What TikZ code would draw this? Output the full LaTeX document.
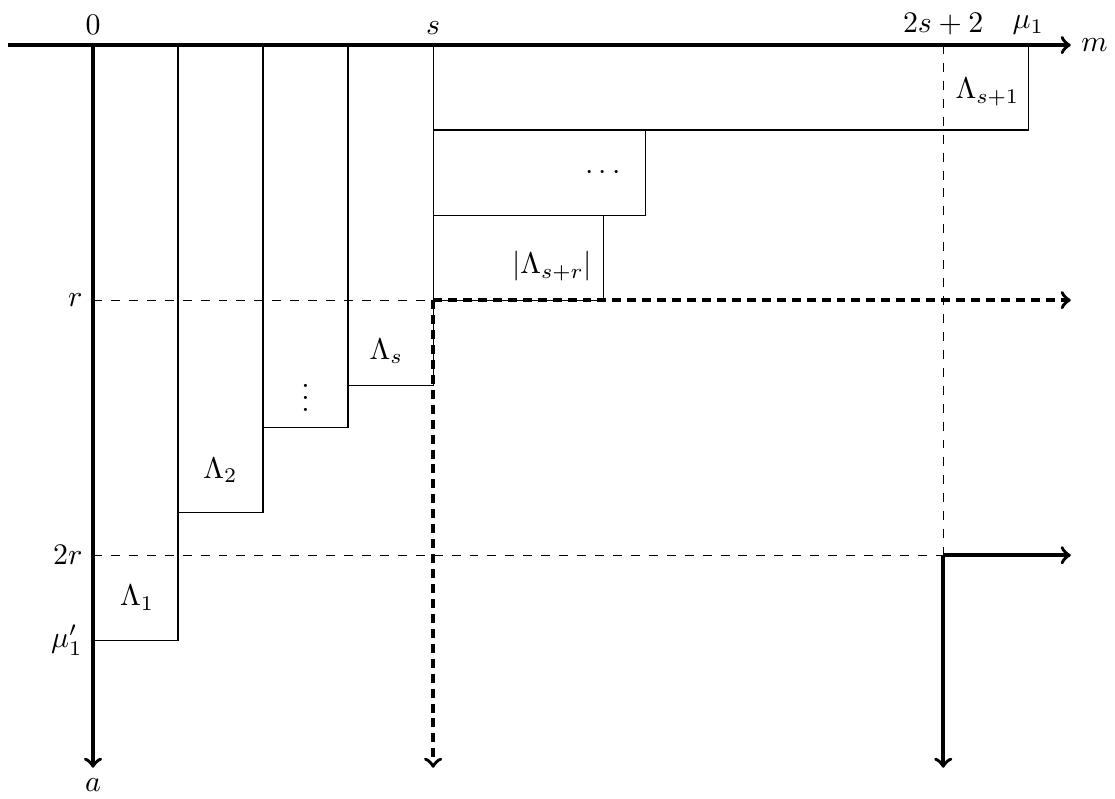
\documentclass[tikz,border=0pt]{standalone}
\usetikzlibrary{arrows}

\begin{document}
\begin{tikzpicture}[
      Axis/.style = {draw, very thick, ->},
      Box/.style = {draw},
      Guide/.style = {draw, dashed},
      Walk/.style = {draw, very thick, densely dashed, ->},
      Jump/.style = {draw, very thick, ->}
    ]
    \useasboundingbox (-1.094,0.53) rectangle (12.02,-8.86);

    \coordinate (O) at (0,0);
    \coordinate (MStart) at (-1,0);
    \coordinate (MEnd) at (11.5,0);
    \coordinate (AEnd) at (0,-8.5);
    \coordinate (S) at (4,0);
    \coordinate (SR) at (4,-3);
    \coordinate (SEnd) at (4,-8.5);
    \coordinate (REnd) at (11.5,-3);
    \coordinate (T) at (10,0);
    \coordinate (TR) at (10,-6);
    \coordinate (TEnd) at (10,-8.5);
    \coordinate (TREnd) at (11.5,-6);

    % columns
    \path [Box] (1,0) -- (1,-7) -- (0,-7);
    \path [Box] (2,0) -- (2,-5.5) -- (1,-5.5);
    \path [Box] (3,0) -- (3,-4.5) -- (2,-4.5);
    \path [Box] (S) -- (4,-4) -- (3,-4);

    % rows
    \path [Box] (4,-1) -- (11,-1) -- (11,0);
    \path [Box] (4,-2) -- (6.5,-2) -- (6.5,-1);
    \path [Box] (SR) -- (6,-3) -- (6,-2);

    % guides
    \path [Guide] (0,-3) -- (SR);
    \path [Guide] (0,-6) -- (TR);
    \path [Guide] (T) -- (TR);

    % axes
    \path [Axis] (MStart) -- (MEnd);
    \path [Axis] (O) -- (AEnd);

    % paths
    \path [Walk] (SR) -- (REnd);
    \path [Walk] (SR) -- (SEnd);
    \path [Jump] (TR) -- (TREnd);
    \path [Jump] (TR) -- (TEnd);

    % axis labels
    \node at (O) [above](Zero){$0$};
    \node at (S) [above](LabS){$s$};
    \node at (T) [above](LabT){$2s+2$};
    \node at (11,0) [above](LabMu){$\mu_1$};
    \node at (MEnd) [right](LabM){$m$};
    \node at (AEnd) [below](LabA){$a$};
    \node at (0,-3) [left](LabR){$r$};
    \node at (0,-6) [left](LabTwoR){$2r$};
    \node at (0,-7) [left](LabMuP){$\mu_1'$};

    % parts
    \node at (0.52,-6.5) (One){$\Lambda_1$};
    \node at (1.5,-5.0) (Two){$\Lambda_2$};
    \node at (2.5,-4.05) (VDots){$\vdots$};
    \node at (3.45,-3.6) (LamS){$\Lambda_s$};
    \node at (5.4,-2.6) (LamSR){$|\Lambda_{s+r}|$};
    \node at (6.0,-1.5) (HDots){$\cdots$};
    \node at (10.52,-0.55) (LamS1){$\Lambda_{s+1}$};
  \end{tikzpicture}
\end{document}
